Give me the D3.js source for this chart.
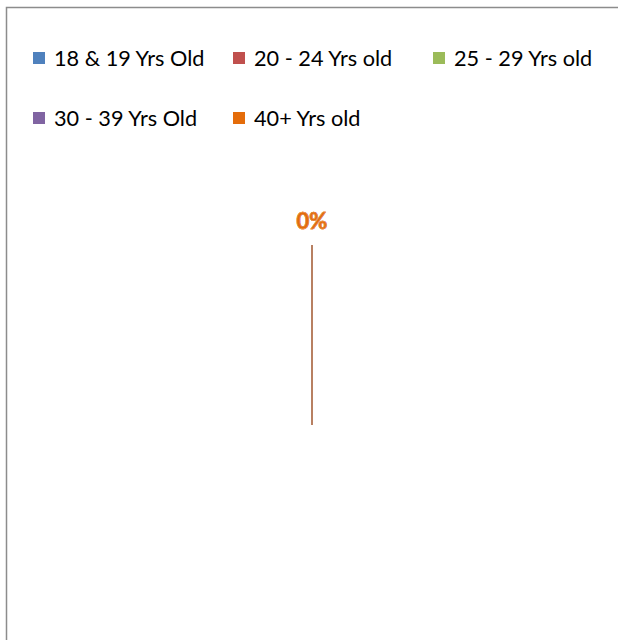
<!DOCTYPE html>
<html>
<head>
<meta charset="utf-8">
<script src="https://cdn.jsdelivr.net/npm/d3@7"></script>
<style>
  body { margin: 0; background: #fff; }
  text { font-family: Lato, "Liberation Sans", sans-serif; }
</style>
</head>
<body>
<div id="chart"></div>
<script>
// chart data: every age group is empty, so the pie has no visible slices
var categories = ["18 & 19 Yrs Old", "20 - 24 Yrs old", "25 - 29 Yrs old", "30 - 39 Yrs Old", "40+ Yrs old"];
var values = [0, 0, 0, 0, 0];
var colors = ["#4f81bd", "#c0504d", "#9bbb59", "#8064a2", "#e46c0a"];
var lineColors = ["#7f9ccb", "#c48382", "#b1c689", "#9b88b7", "#c07a4a"];

var width = 618, height = 640;

var svg = d3.select("#chart").append("svg")
  .attr("width", width)
  .attr("height", height);

// chart frame (cropped at right and bottom)
svg.append("rect")
  .attr("x", 6.5).attr("y", 7.5)
  .attr("width", width + 10).attr("height", height + 10)
  .attr("fill", "#fff")
  .attr("stroke", "#8c8c8c")
  .attr("stroke-width", 1.5);

// legend
var legendCols = [29, 229, 429];
var legendRows = [58, 118];
var legend = svg.append("g").selectAll("g")
  .data(categories)
  .enter().append("g")
  .attr("transform", function (d, i) {
    return "translate(" + legendCols[i % 3] + "," + legendRows[Math.floor(i / 3)] + ")";
  });

legend.append("rect")
  .attr("x", 4).attr("y", -6)
  .attr("width", 12).attr("height", 12)
  .attr("fill", function (d, i) { return colors[i]; });

legend.append("text")
  .attr("x", 25)
  .attr("dy", "0.35em")
  .attr("font-size", 21.7)
  .attr("fill", "#000")
  .text(function (d) { return d; });

// pie
var cx = 312, cy = 520, radius = 95;
var pie = d3.pie().sort(null)(values);
var arc = d3.arc().innerRadius(0).outerRadius(radius);
var g = svg.append("g").attr("transform", "translate(" + cx + "," + cy + ")");

g.selectAll("path.slice")
  .data(pie)
  .enter().append("path")
  .attr("class", "slice")
  .attr("d", arc)
  .attr("fill", function (d, i) { return colors[i]; });

// leader lines and labels (they all fall on top of each other at angle 0)
var pt = function (d, r) {
  var a = (d.startAngle + d.endAngle) / 2;
  return [Math.sin(a) * r, -Math.cos(a) * r];
};
var total = d3.sum(values);

g.selectAll("line.leader")
  .data(pie)
  .enter().append("line")
  .attr("class", "leader")
  .attr("x1", function (d) { return pt(d, radius)[0]; })
  .attr("y1", function (d) { return pt(d, radius)[1]; })
  .attr("x2", function (d) { return pt(d, radius + 180)[0]; })
  .attr("y2", function (d) { return pt(d, radius + 180)[1]; })
  .attr("stroke", function (d, i) { return lineColors[i]; })
  .attr("stroke-width", 1.5);

g.selectAll("text.label")
  .data(pie)
  .enter().append("text")
  .attr("class", "label")
  .attr("x", function (d) { return pt(d, radius + 204)[0]; })
  .attr("y", function (d) { return pt(d, radius + 204)[1]; })
  .attr("text-anchor", "middle")
  .attr("dy", "0.35em")
  .attr("font-size", 22)
  .attr("font-weight", "bold")
  .attr("fill", function (d, i) { return colors[i]; })
  .attr("stroke", "#f3a360")
  .attr("stroke-width", 0.4)
  .text(function (d) { return (total ? Math.round(d.value / total * 100) : 0) + "%"; });
</script>
</body>
</html>
